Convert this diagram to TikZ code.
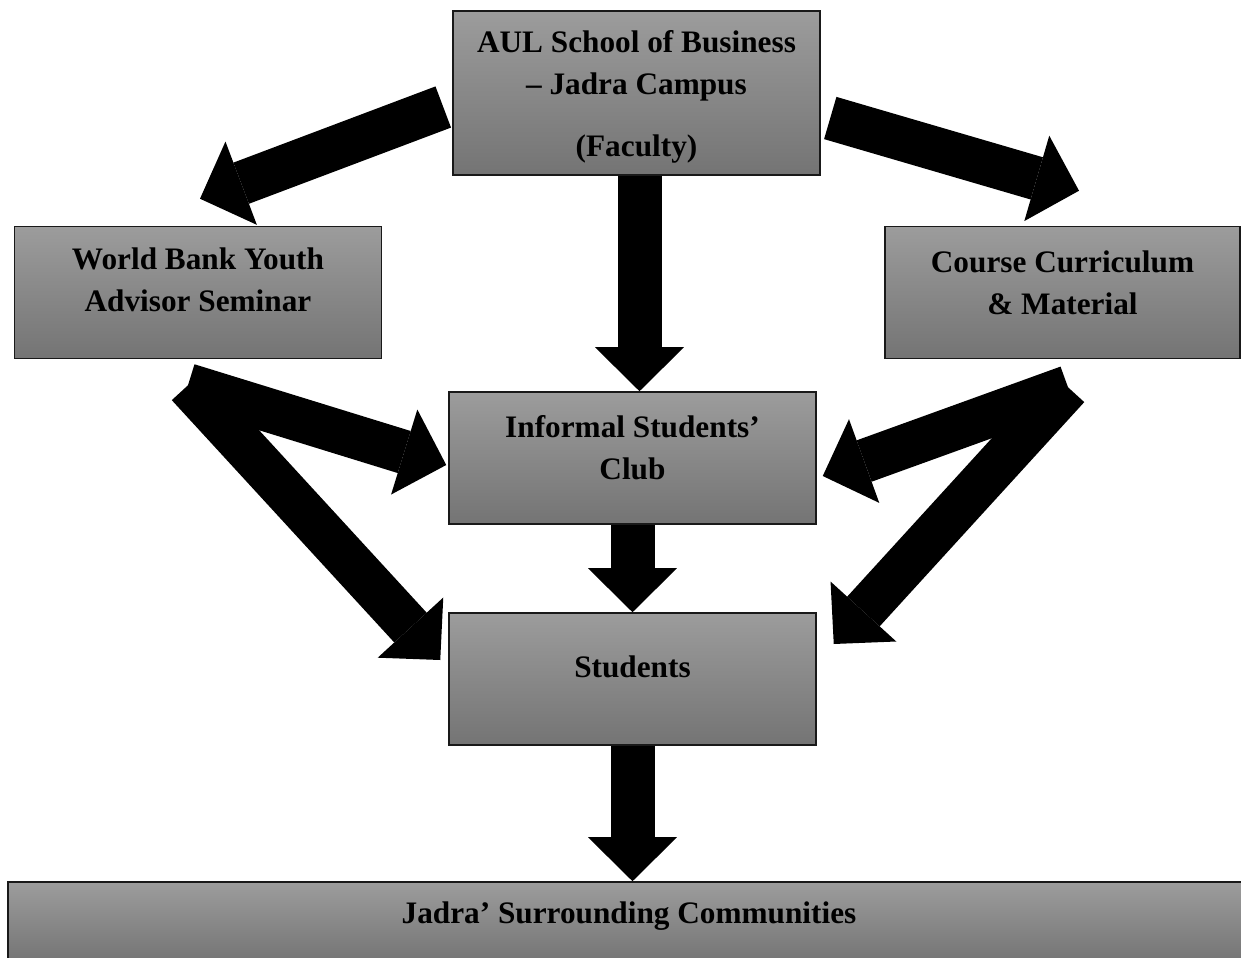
\documentclass[tikz,border=0pt]{standalone}
\usepackage{fontspec}
\setmainfont{Liberation Serif}
\usepackage{tikz}
\usetikzlibrary{arrows.meta}
\definecolor{boxtop}{HTML}{9C9C9C}
\definecolor{boxbot}{HTML}{747474}

\begin{document}
\begin{tikzpicture}[x=0.02cm, y=-0.02cm,
        main/.style = {draw=black!90, line width=0.9pt, top color=boxtop, bottom color=boxbot, minimum width=7.34cm, minimum height=2.64cm},
        txt/.style = {align=center, font=\bfseries\fontsize{17.8}{23.8}\selectfont},
        block/.style = {line width=0.88cm, -{Triangle[width=1.78cm, length=0.88cm, line width=0pt]}}]
            \useasboundingbox (0,0) rectangle (1241,957);

            \node[main, minimum height=3.28cm] (AUL) at (636.5,93) {};
            \node[main] (WB) at (198,292.5) {};
            \node[main, minimum width=7.1cm] (CC) at (1062.5,292.5) {};
            \node[main] (ISC) at (632.5,458) {};
            \node[main] (S) at (632.5,679) {};
            \node[main, minimum width=24.84cm, minimum height=1.6cm] (JSC) at (629,922) {};

            \node[txt] at ([shift={(0,4)}]AUL.center) {AUL School of Business\\ – Jadra Campus\\[11.9pt] (Faculty)};
            \node[txt] at ([shift={(0,-12.5)}]WB.center) {World Bank Youth\\Advisor Seminar};
            \node[txt] at ([shift={(0,-10)}]CC.center) {Course Curriculum\\\& Material};
            \node[txt] at ([shift={(0,-10)}]ISC.center) {Informal Students’\\Club};
            \node[txt] at ([shift={(0,-12)}]S.center) {Students};
            \node[txt] at ([shift={(0,-6)}]JSC.center) {Jadra’ Surrounding Communities};

            % forks under the two side boxes
            \coordinate (WBfork) at ([shift={(-10,26)}]WB.south);
            \coordinate (CCfork) at ([shift={(5.5,28)}]CC.south);

            \path[block] ([shift={(-9,14)}]AUL.west) edge ([shift={(2,-27)}]WB.north);
            \path[block] ([shift={(9.5,25)}]AUL.east) edge ([shift={(16.5,-35)}]CC.north);
            \path[block] ([shift={(3,0)}]AUL.south) edge ([shift={(3,0)}]AUL.south |- ISC.north);

            \path[block] (WBfork) edge ([shift={(-2,7)}]ISC.west);
            \path[block] (WBfork) edge ([shift={(-8,-19)}]S.west);
            \path[block] (CCfork) edge ([shift={(6,18)}]ISC.east);
            \path[block] (CCfork) edge ([shift={(17,-35)}]S.east);

            \path[block] (ISC.south) edge (S.north);
            \path[block] (S.south) edge (S.south |- JSC.north);
        \end{tikzpicture}
\end{document}
